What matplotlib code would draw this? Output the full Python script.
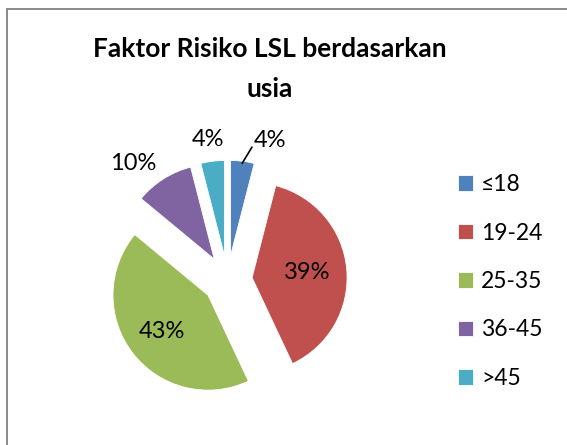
import numpy as np
import matplotlib
matplotlib.use("Agg")
import matplotlib.pyplot as plt
from matplotlib.lines import Line2D

plt.rcParams['font.family'] = ['Lato', 'DejaVu Sans']

categories = ["≤18", "19-24", "25-35", "36-45", ">45"]
values = [4, 39, 43, 10, 4]
pct_labels = ["4%", "39%", "43%", "10%", "4%"]
colors = ["#4F81BD", "#C0504D", "#9BBB59", "#8064A2", "#4BACC6"]
title = "Faktor Risiko LSL berdasarkan\nusia"

# label placement style: (inside?, distance, angle offset in degrees)
label_style = [(False, 1.54, -9.7), (True, 0.58, 0.0), (True, 0.62, 0.0),
               (False, 1.58, 6.5), (False, 1.49, 0.7)]

W, H = 567, 445
fig = plt.figure(figsize=(W / 100, H / 100), dpi=100)
R = 95.0
lim = 1.6
side = 2 * lim * R
cx, cy = 227.5, 445 - 280
ax = fig.add_axes([(cx - side / 2) / W, (cy - side / 2) / H, side / W, side / H])

wedges, _ = ax.pie(values, colors=colors, startangle=90, counterclock=False,
                   explode=[0.26] * len(values), radius=1,
                   wedgeprops=dict(edgecolor='white', linewidth=0.6))
ax.set_xlim(-lim, lim)
ax.set_ylim(-lim, lim)
ax.set_aspect('equal')
ax.axis('off')

for w, lab, (inside, d, off) in zip(wedges, pct_labels, label_style):
    mid = np.deg2rad((w.theta1 + w.theta2) / 2)
    if inside:
        x0, y0 = w.center
        x = x0 + d * np.cos(mid)
        y = y0 + d * np.sin(mid)
    else:
        a = mid + np.deg2rad(off)
        x = d * np.cos(a)
        y = d * np.sin(a)
    ax.text(x, y, lab, ha='center', va='center', fontsize=17, color='black')

# leader line for the first slice
w0 = wedges[0]
mid0 = np.deg2rad((w0.theta1 + w0.theta2) / 2)
ex, ey = w0.center[0] + 0.98 * np.cos(mid0), w0.center[1] + 0.98 * np.sin(mid0)
sa = mid0 + np.deg2rad(-3.2)
ax.plot([1.42 * np.cos(sa), ex], [1.42 * np.sin(sa), ey], color='black', lw=1.2,
        clip_on=False)

fig.text(270 / W, 1 - 97 / H, title, ha='center', va='baseline', fontsize=19,
         fontweight='bold', linespacing=1.8, multialignment='center')

leg = fig.legend(wedges, categories, loc='upper left',
                 bbox_to_anchor=(458 / W, 1 - 174 / H), frameon=False,
                 fontsize=16.5, handlelength=0.66, handleheight=0.66,
                 handletextpad=0.34, labelspacing=1.2, borderpad=0,
                 borderaxespad=0)

# chart border (left and top edges visible)
fig.add_artist(Line2D([7 / W, 7 / W], [0, 1 - 9 / H], transform=fig.transFigure,
                      color='#8a8a8a', lw=1.4))
fig.add_artist(Line2D([7 / W, 1], [1 - 9 / H, 1 - 9 / H], transform=fig.transFigure,
                      color='#8a8a8a', lw=1.4))

fig.savefig('out.png', dpi=100)
